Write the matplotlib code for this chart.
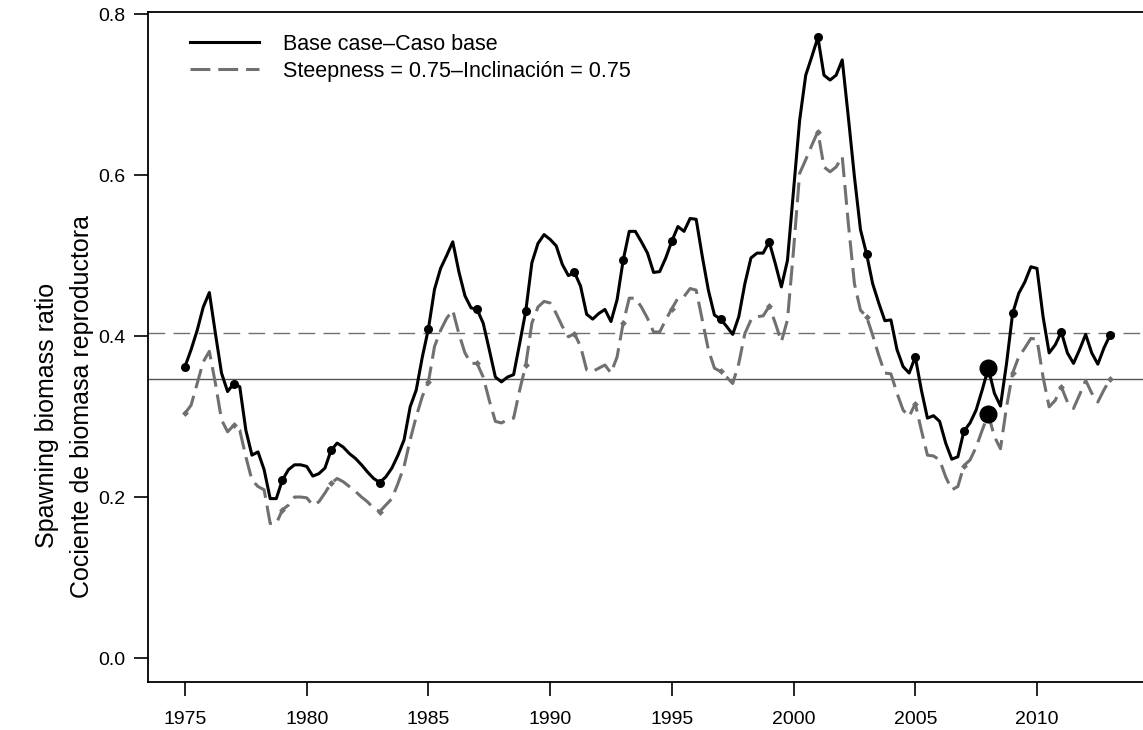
import numpy as np
import matplotlib
matplotlib.use("Agg")
import matplotlib.pyplot as plt

plt.rcParams['font.family'] = ['Liberation Sans', 'DejaVu Sans']

# quarterly values, 1975.0 ... 2013.0
base_case = [
    0.362, 0.383, 0.407, 0.436,  # 1975
    0.454, 0.403, 0.354, 0.331,  # 1976
    0.341, 0.337, 0.283, 0.252,  # 1977
    0.256, 0.234, 0.198, 0.198,  # 1978
    0.221, 0.234, 0.240, 0.240,  # 1979
    0.238, 0.226, 0.229, 0.236,  # 1980
    0.258, 0.267, 0.262, 0.254,  # 1981
    0.248, 0.240, 0.231, 0.223,  # 1982
    0.218, 0.225, 0.236, 0.252,  # 1983
    0.271, 0.312, 0.333, 0.374,  # 1984
    0.409, 0.458, 0.484, 0.500,  # 1985
    0.517, 0.480, 0.450, 0.435,  # 1986
    0.433, 0.416, 0.383, 0.349,  # 1987
    0.343, 0.349, 0.352, 0.391,  # 1988
    0.431, 0.491, 0.515, 0.526,  # 1989
    0.520, 0.512, 0.489, 0.475,  # 1990
    0.479, 0.462, 0.427, 0.421,  # 1991
    0.428, 0.433, 0.418, 0.445,  # 1992
    0.494, 0.530, 0.530, 0.517,  # 1993
    0.503, 0.479, 0.480, 0.497,  # 1994
    0.518, 0.536, 0.530, 0.546,  # 1995
    0.545, 0.499, 0.457, 0.426,  # 1996
    0.421, 0.412, 0.402, 0.424,  # 1997
    0.465, 0.497, 0.503, 0.503,  # 1998
    0.517, 0.490, 0.461, 0.494,  # 1999
    0.581, 0.668, 0.724, 0.747,  # 2000
    0.771, 0.724, 0.718, 0.724,  # 2001
    0.743, 0.672, 0.598, 0.532,  # 2002
    0.502, 0.465, 0.441, 0.419,  # 2003
    0.420, 0.383, 0.362, 0.354,  # 2004
    0.374, 0.333, 0.298, 0.301,  # 2005
    0.294, 0.267, 0.247, 0.250,  # 2006
    0.282, 0.292, 0.308, 0.333,  # 2007
    0.360, 0.329, 0.313, 0.366,  # 2008
    0.428, 0.453, 0.467, 0.486,  # 2009
    0.484, 0.424, 0.379, 0.389,  # 2010
    0.405, 0.379, 0.366, 0.383,  # 2011
    0.402, 0.379, 0.365, 0.385,  # 2012
    0.401,                       # 2013
]

steepness_075 = [
    0.304, 0.314, 0.341, 0.368,  # 1975
    0.381, 0.341, 0.296, 0.281,  # 1976
    0.289, 0.283, 0.250, 0.221,  # 1977
    0.213, 0.209, 0.167, 0.167,  # 1978
    0.184, 0.190, 0.200, 0.200,  # 1979
    0.199, 0.190, 0.194, 0.205,  # 1980
    0.217, 0.223, 0.219, 0.213,  # 1981
    0.207, 0.200, 0.194, 0.186,  # 1982
    0.182, 0.190, 0.198, 0.217,  # 1983
    0.238, 0.271, 0.300, 0.325,  # 1984
    0.343, 0.387, 0.407, 0.422,  # 1985
    0.432, 0.403, 0.379, 0.366,  # 1986
    0.366, 0.349, 0.320, 0.294,  # 1987
    0.292, 0.296, 0.298, 0.333,  # 1988
    0.364, 0.416, 0.436, 0.443,  # 1989
    0.441, 0.428, 0.412, 0.399,  # 1990
    0.403, 0.387, 0.358, 0.356,  # 1991
    0.360, 0.364, 0.354, 0.374,  # 1992
    0.416, 0.447, 0.447, 0.436,  # 1993
    0.422, 0.405, 0.405, 0.420,  # 1994
    0.434, 0.447, 0.449, 0.459,  # 1995
    0.457, 0.420, 0.383, 0.360,  # 1996
    0.356, 0.349, 0.341, 0.366,  # 1997
    0.403, 0.420, 0.424, 0.425,  # 1998
    0.437, 0.416, 0.393, 0.420,  # 1999
    0.507, 0.602, 0.619, 0.637,  # 2000
    0.654, 0.610, 0.604, 0.610,  # 2001
    0.623, 0.540, 0.465, 0.432,  # 2002
    0.424, 0.401, 0.376, 0.354,  # 2003
    0.353, 0.329, 0.308, 0.300,  # 2004
    0.316, 0.283, 0.252, 0.251,  # 2005
    0.246, 0.225, 0.209, 0.213,  # 2006
    0.239, 0.246, 0.262, 0.283,  # 2007
    0.303, 0.275, 0.260, 0.312,  # 2008
    0.354, 0.374, 0.385, 0.397,  # 2009
    0.396, 0.349, 0.312, 0.320,  # 2010
    0.337, 0.318, 0.310, 0.327,  # 2011
    0.345, 0.329, 0.318, 0.333,  # 2012
    0.346,                       # 2013
]

start_year = 1975
ref_base = 0.347         # solid horizontal reference
ref_steep = 0.404        # dashed horizontal reference
highlight_year = 2008
x_ticks = [1975, 1980, 1985, 1990, 1995, 2000, 2005, 2010]
y_ticks = [0.0, 0.2, 0.4, 0.6, 0.8]
y_tick_labels = ["0.0", "0.2", "0.4", "0.6", "0.8"]
legend_labels = ["Base case\u2013Caso base",
                 "Steepness = 0.75\u2013Inclinación = 0.75"]
ylabel_lines = ["Spawning biomass ratio", "Cociente de biomasa reproductora"]

years = start_year + np.arange(len(base_case)) * 0.25
base = np.array(base_case)
steep = np.array(steepness_075)
odd_mask = np.isclose(years % 2, 1.0)  # 1975, 1977, ...
hi_idx = int(np.argmin(np.abs(years - highlight_year)))

W, H = 1143, 730
fig = plt.figure(figsize=(W / 100, H / 100), dpi=100)
ax = fig.add_axes([148 / W, (H - 682) / H, (1147 - 148) / W, (682 - 12) / H])

gray = '#707070'
ax.axhline(ref_base, color='#555555', lw=1.0, zorder=1)
ax.axhline(ref_steep, color=gray, lw=1.0, dashes=(12, 6), zorder=1)

ax.plot(years, steep, color=gray, lw=2.2, dashes=(6.5, 2.6), zorder=2,
        label=legend_labels[1])
ax.plot(years[odd_mask], steep[odd_mask], 'D', color=gray, ms=3.5, mew=0, zorder=2)
ax.plot(years, base, color='black', lw=2.2, zorder=3, label=legend_labels[0])
ax.plot(years[odd_mask], base[odd_mask], 'o', color='black', ms=6.5, mew=0, zorder=3)
ax.plot([years[hi_idx]] * 2, [base[hi_idx], steep[hi_idx]], 'o', color='black',
        ms=13, mew=0, zorder=4, linestyle='none')

ax.set_xlim(1973.48, 2014.52)
ax.set_ylim(-0.0298, 0.8025)
ax.set_xticks(x_ticks)
ax.set_xticklabels([str(t) for t in x_ticks], fontsize=14)
ax.set_yticks(y_ticks)
ax.set_yticklabels(y_tick_labels, fontsize=14)
ax.tick_params(direction='out', length=10, width=1.2, colors='black')
ax.tick_params(axis='x', pad=11)
ax.tick_params(axis='y', pad=6)
for s in ax.spines.values():
    s.set_linewidth(1.3)

handles, labels = ax.get_legend_handles_labels()
order = [1, 0]
ax.legend([handles[i] for i in order], [labels[i] for i in order],
          loc='upper left', bbox_to_anchor=(0.042, 0.9675), frameon=False,
          fontsize=15.5, handlelength=3.2, handletextpad=1.1,
          labelspacing=0.29, borderpad=0, borderaxespad=0)

fig.text(47 / W, 1 - 415 / H, ylabel_lines[0], rotation=90, fontsize=18,
         ha='center', va='center')
fig.text(82 / W, 1 - 406 / H, ylabel_lines[1], rotation=90, fontsize=18,
         ha='center', va='center')

fig.savefig('out.png', dpi=100)
